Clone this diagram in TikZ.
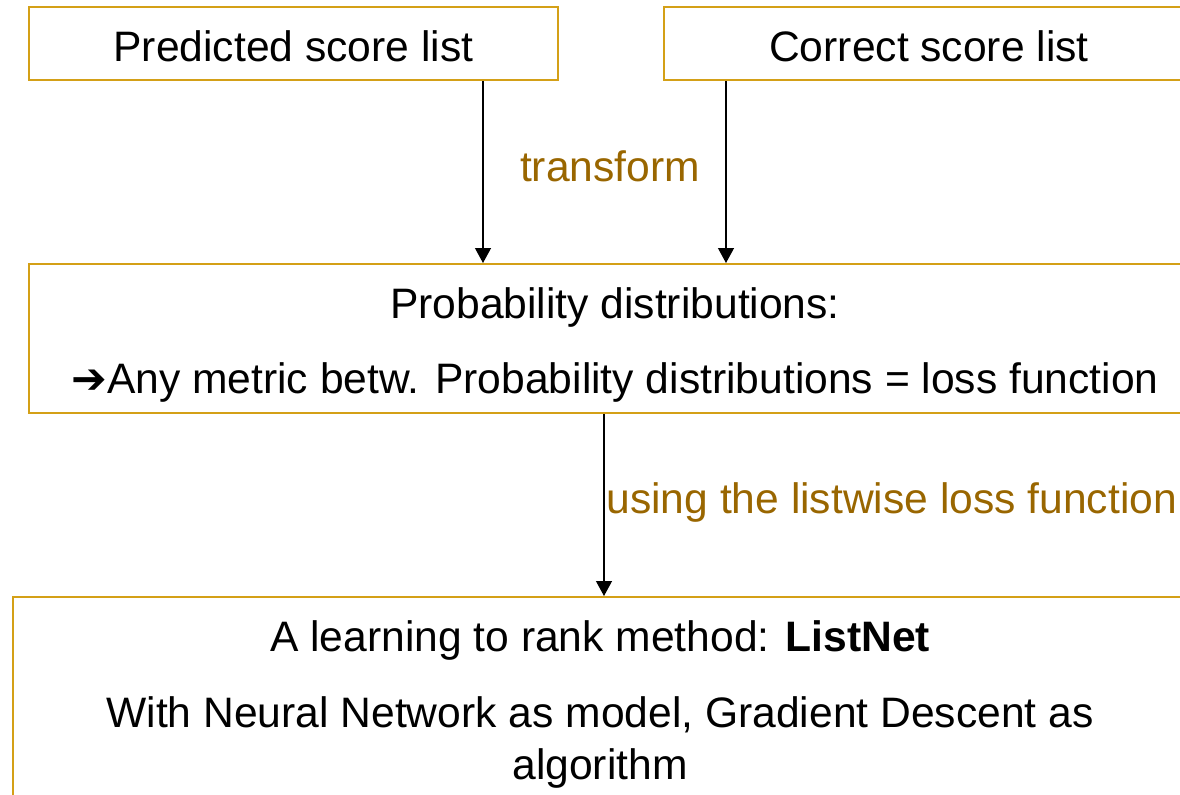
\documentclass[tikz,border=0pt]{standalone}
\usepackage{fontspec}
\setmainfont{Liberation Sans}
\newfontfamily\symfont{DejaVu Sans}
\usetikzlibrary{arrows.meta}
\definecolor{boxgold}{RGB}{212,160,23}
\definecolor{labelbrown}{RGB}{153,102,0}

\begin{document}
\begin{tikzpicture}[x=0.5pt,y=-0.5pt,
  box/.style={shape=rectangle,draw=boxgold,line width=1pt,inner sep=0pt,align=center,font=\fontsize{21.3}{26}\selectfont},
  arr/.style={-{Triangle[length=7.5pt,width=8pt]},line width=0.6pt},
  lbl/.style={text=labelbrown,font=\fontsize{21.3}{26}\selectfont}]
 \useasboundingbox (0,0) rectangle (1180,794);
 \clip (0,0) rectangle (1180,794);
 \node (pred) at (293.5,43.5) [box,minimum width=264.5pt,minimum height=36.5pt] {\rule{0pt}{18.3pt}Predicted score list};
 \node (corr) at (929,43.5) [box,minimum width=265pt,minimum height=36.5pt] {\rule{0pt}{18.3pt}Correct score list};
 \node (prob) at (615,338.5) [box,minimum width=586pt,minimum height=74.5pt] {\rule{0pt}{21.5pt}Probability distributions:\\[11.5pt]{\symfont\bfseries ➔}Any metric betw. Probability distributions = loss function};
 \node (lnet) at (600,699) [box,minimum width=587pt,minimum height=102pt] {\rule{0pt}{20.5pt}A learning to rank method: \textbf{ListNet}\\[12pt]With Neural Network as model, Gradient Descent as\\algorithm};
 \node (trans) at (610,166) [lbl] {transform};
 \node (loss) at (606,502) [lbl,anchor=west,inner xsep=0pt] {using the listwise loss function};
 \draw[arr] ([xshift=94.75pt]pred.south) -- ([xshift=-66pt]prob.north);
 \draw[arr] ([xshift=-101.5pt]corr.south) -- ([xshift=55.5pt]prob.north);
 \draw[arr] ([xshift=-5.5pt]prob.south) -- ([xshift=2pt]lnet.north);
\end{tikzpicture}
\end{document}
